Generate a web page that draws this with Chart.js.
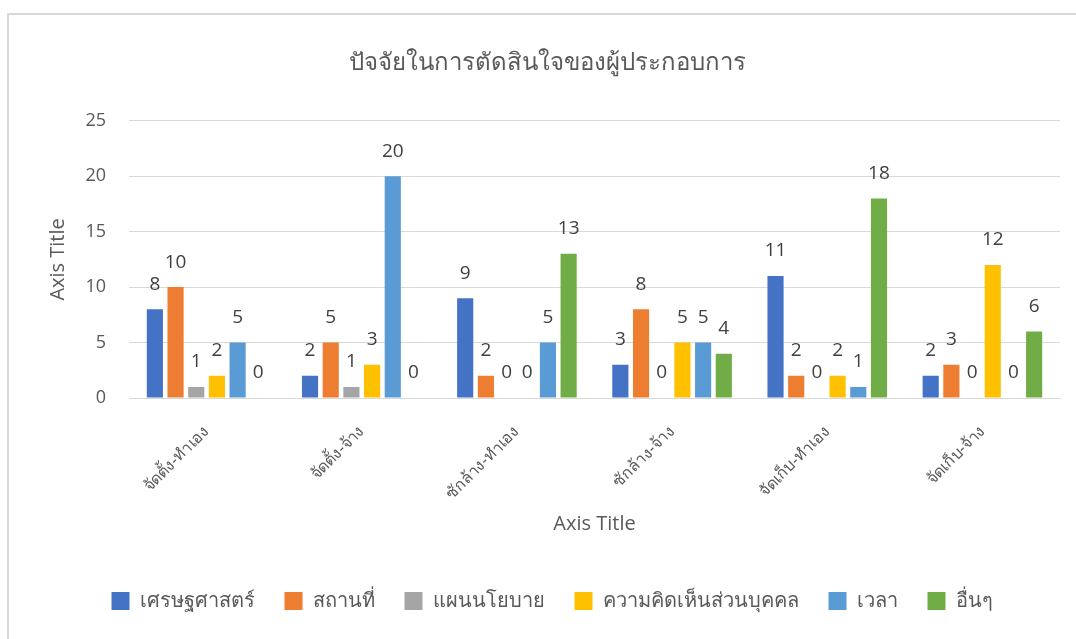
<!DOCTYPE html>
<html>
<head>
<meta charset="utf-8">
<script src="https://cdn.jsdelivr.net/npm/chart.js@4/dist/chart.umd.min.js"></script>
<style>
  html, body { margin: 0; padding: 0; background: #fff; }
  #wrap { position: relative; width: 1076px; height: 639px; overflow: hidden; }
  #frame { position: absolute; left: 7px; top: 13px; width: 1100px; height: 700px;
           border-left: 2px solid #d9d9d9; border-top: 2px solid #d9d9d9; }
  #chart { position: absolute; left: 0; top: 0; }
</style>
</head>
<body>
<div id="wrap">
  <div id="frame"></div>
  <canvas id="chart" width="1076" height="639"></canvas>
</div>
<script>
const categories = ['จัดตั้ง-ทำเอง', 'จัดตั้ง-จ้าง', 'ซักล้าง-ทำเอง', 'ซักล้าง-จ้าง', 'จัดเก็บ-ทำเอง', 'จัดเก็บ-จ้าง'];
const seriesNames = ['เศรษฐศาสตร์', 'สถานที่', 'แผนนโยบาย', 'ความคิดเห็นส่วนบุคคล', 'เวลา', 'อื่นๆ'];
const economics = [8, 2, 9, 3, 11, 2];
const place = [10, 5, 2, 8, 2, 3];
const policy = [1, 1, 0, 0, 0, 0];
const opinion = [2, 3, 0, 5, 2, 12];
const timeSpent = [5, 20, 5, 5, 1, 0];
const others = [0, 0, 13, 4, 18, 6];
const yTicks = [0, 5, 10, 15, 20, 25];

const colors = ['#4472C4', '#ED7D31', '#A5A5A5', '#FFC000', '#5B9BD5', '#70AD47'];
const seriesValues = [economics, place, policy, opinion, timeSpent, others];

const fontFamily = '"Open Sans", "Noto Sans", sans-serif';

// number above every bar
const valueLabels = {
    id: 'valueLabels',
    afterDatasetsDraw(chart) {
        const ctx = chart.ctx;
        ctx.save();
        ctx.font = '19px ' + fontFamily;
        ctx.fillStyle = '#404040';
        ctx.textAlign = 'center';
        ctx.textBaseline = 'middle';
        chart.data.datasets.forEach((ds, i) => {
            chart.getDatasetMeta(i).data.forEach((bar, j) => {
                ctx.fillText(String(ds.data[j]), bar.x, bar.y - 25);
            });
        });
        ctx.restore();
    }
};

// title and legend sit a bit right of the canvas centre
const blockNudge = {
    id: 'blockNudge',
    afterLayout(chart) {
        chart.legend.left += 18;
        chart.legend.right += 18;
        chart.titleBlock.left += 13;
        chart.titleBlock.right += 13;
    }
};

const ctx = document.getElementById('chart').getContext('2d');
new Chart(ctx, {
    type: 'bar',
    data: {
        labels: categories,
        datasets: seriesNames.map((name, i) => ({
            label: name,
            data: seriesValues[i],
            backgroundColor: colors[i],
            categoryPercentage: 0.8,
            barPercentage: 0.78
        }))
    },
    options: {
        responsive: false,
        animation: false,
        layout: { padding: { top: 14, left: 8, right: 16, bottom: 18 } },
        plugins: {
            title: {
                display: true,
                text: 'ปัจจัยในการตัดสินใจของผู้ประกอบการ',
                color: '#595959',
                font: { family: fontFamily, size: 24, weight: 'normal' },
                padding: { top: 35, bottom: 43 }
            },
            legend: {
                position: 'bottom',
                labels: {
                    boxWidth: 18,
                    boxHeight: 18,
                    padding: 30,
                    color: '#595959',
                    font: { family: fontFamily, size: 20 }
                }
            },
            tooltip: { enabled: false }
        },
        scales: {
            x: {
                grid: { display: false, drawTicks: false },
                border: { color: '#d9d9d9' },
                ticks: {
                    minRotation: 45,
                    maxRotation: 45,
                    padding: 24,
                    color: '#595959',
                    font: { family: fontFamily, size: 16 }
                },
                title: {
                    display: true,
                    text: 'Axis Title',
                    color: '#595959',
                    font: { family: fontFamily, size: 20 },
                    padding: { top: 0, bottom: 25 }
                },
                afterFit: s => { s.height = 163; }
            },
            y: {
                min: 0,
                max: 25,
                afterBuildTicks: s => { s.ticks = yTicks.map(v => ({ value: v })); },
                grid: { color: '#d9d9d9', drawTicks: false },
                border: { display: false },
                ticks: {
                    padding: 23,
                    color: '#595959',
                    font: { family: fontFamily, size: 18 }
                },
                title: {
                    display: true,
                    text: 'Axis Title',
                    color: '#595959',
                    font: { family: fontFamily, size: 20 },
                    padding: { top: 38, bottom: 0 }
                },
                afterFit: s => { s.width = 121; }
            }
        }
    },
    plugins: [valueLabels, blockNudge]
});
</script>
</body>
</html>
